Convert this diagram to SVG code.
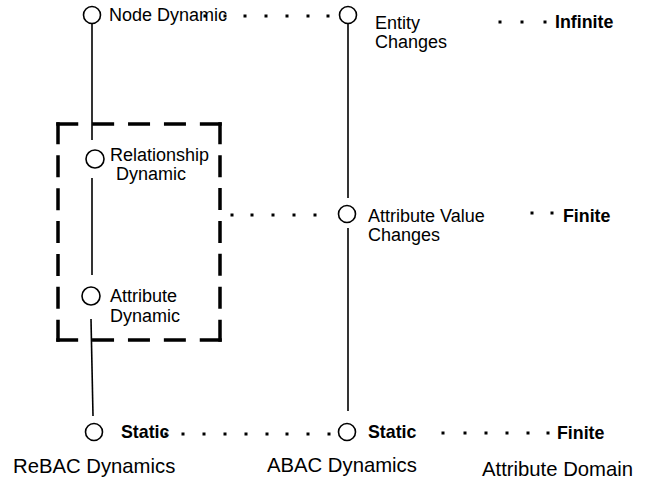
<svg xmlns="http://www.w3.org/2000/svg" xmlns:xlink="http://www.w3.org/1999/xlink" width="656" height="483" viewBox="0 0 656 483">
<defs>
<style>
.n{fill:#fff;stroke:#000;stroke-width:1.6}
.l{stroke:#000;stroke-width:1.6;fill:none}
.t{font-family:"Liberation Sans",Arial,sans-serif;font-size:18px;fill:#000}
.b{font-family:"Liberation Sans",Arial,sans-serif;font-size:17.8px;font-weight:bold;fill:#000}
.c{font-family:"Liberation Sans",Arial,sans-serif;font-size:20.3px;fill:#000}
.box{fill:none;stroke:#000;stroke-width:3.5}
.h{stroke-dasharray:22 13.9}
.v{stroke-dasharray:22 10.9}
</style>
<rect id="dot" x="-1.5" y="-1.5" width="3" height="3" fill="#000"/>
</defs>
<rect width="656" height="483" fill="#fff"/>
<g id="connectors">
<line class="l" x1="92" y1="24" x2="92" y2="140"/>
<line class="l" x1="92" y1="178" x2="92" y2="275"/>
<line class="l" x1="91" y1="319" x2="93" y2="416"/>
<line class="l" x1="348" y1="24" x2="348" y2="198"/>
<line class="l" x1="348" y1="228" x2="348" y2="411"/>
<g id="dots">
<use xlink:href="#dot" x="245" y="16"/><use xlink:href="#dot" x="266" y="16"/><use xlink:href="#dot" x="287" y="16"/><use xlink:href="#dot" x="308" y="16"/><use xlink:href="#dot" x="328" y="16"/>
<use xlink:href="#dot" x="500" y="22"/><use xlink:href="#dot" x="522" y="22"/><use xlink:href="#dot" x="545" y="22"/>
<use xlink:href="#dot" x="232" y="215"/><use xlink:href="#dot" x="252" y="215"/><use xlink:href="#dot" x="273" y="215"/><use xlink:href="#dot" x="294" y="215"/><use xlink:href="#dot" x="315" y="215"/>
<use xlink:href="#dot" x="532" y="213"/><use xlink:href="#dot" x="552" y="213"/>
<use xlink:href="#dot" x="183" y="434"/><use xlink:href="#dot" x="204" y="434"/><use xlink:href="#dot" x="225" y="434"/><use xlink:href="#dot" x="246" y="434"/><use xlink:href="#dot" x="267" y="434"/><use xlink:href="#dot" x="287" y="434"/><use xlink:href="#dot" x="308" y="434"/><use xlink:href="#dot" x="329" y="434"/>
<use xlink:href="#dot" x="443" y="433"/><use xlink:href="#dot" x="465" y="433"/><use xlink:href="#dot" x="486" y="433"/><use xlink:href="#dot" x="507" y="433"/><use xlink:href="#dot" x="528" y="433"/><use xlink:href="#dot" x="548" y="433"/>
</g>
</g>
<g id="group-box">
<line class="box h" x1="56.25" y1="124" x2="221.75" y2="124"/>
<line class="box h" x1="221.75" y1="340" x2="56.25" y2="340"/>
<line class="box v" x1="220" y1="122.25" x2="220" y2="341.75"/>
<line class="box v" x1="58" y1="341.75" x2="58" y2="122.25"/>
</g>
<g id="node-dynamic">
<circle class="n" cx="92" cy="15" r="8.5"/>
<text class="t" x="109" y="21">Node Dynamic</text>
<use xlink:href="#dot" x="205" y="16"/><use xlink:href="#dot" x="225" y="16"/>
</g>
<g id="entity-changes">
<circle class="n" cx="348" cy="15" r="8.5"/>
<text class="t" x="375" y="29">Entity</text>
<text class="t" x="375" y="48">Changes</text>
</g>
<g id="infinite">
<text class="b" x="555" y="28">Infinite</text>
</g>
<g id="relationship-dynamic">
<circle class="n" cx="95" cy="159" r="9"/>
<text class="t" x="110" y="161">Relationship</text>
<text class="t" x="116" y="180">Dynamic</text>
</g>
<g id="attribute-dynamic">
<circle class="n" cx="91" cy="296" r="9"/>
<text class="t" x="110" y="302">Attribute</text>
<text class="t" x="110" y="322">Dynamic</text>
</g>
<g id="attribute-value-changes">
<circle class="n" cx="347" cy="214" r="8.5"/>
<text class="t" x="368" y="222">Attribute Value</text>
<text class="t" x="368" y="241">Changes</text>
</g>
<g id="finite-mid">
<text class="b" x="563" y="222">Finite</text>
</g>
<g id="static-rebac">
<circle class="n" cx="94" cy="432" r="8.5"/>
<text class="b" x="121" y="438">Static</text>
<use xlink:href="#dot" x="166" y="434"/>
</g>
<g id="static-abac">
<circle class="n" cx="347" cy="432" r="8.5"/>
<text class="b" x="368" y="438">Static</text>
</g>
<g id="finite-bottom">
<text class="b" x="557" y="439">Finite</text>
</g>
<g id="captions">
<text class="c" x="13" y="473" font-size="20.8">ReBAC Dynamics</text>
<text class="c" x="267" y="472">ABAC Dynamics</text>
<text class="c" x="482" y="476">Attribute Domain</text>
</g>
</svg>
